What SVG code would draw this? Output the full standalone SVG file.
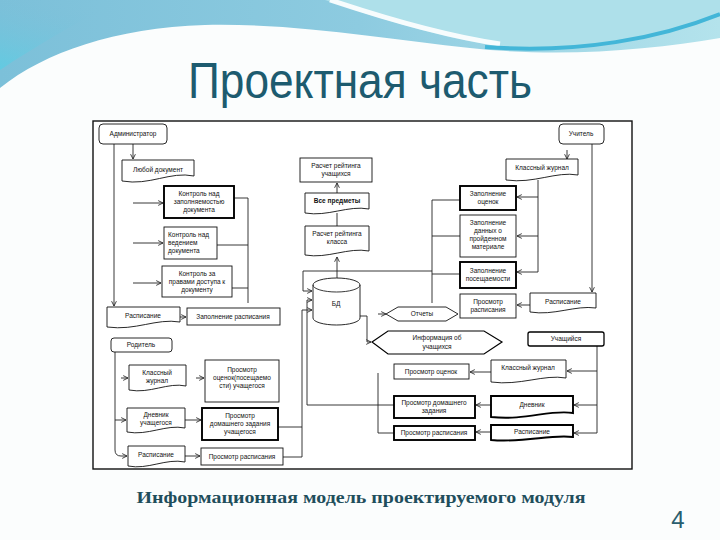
<svg xmlns="http://www.w3.org/2000/svg" width="720" height="540" viewBox="0 0 720 540">
<defs>
<linearGradient id="sky" x1="0" y1="0" x2="1" y2="0">
<stop offset="0" stop-color="#7cc0d9"/>
<stop offset="0.5" stop-color="#8dcbe0"/>
<stop offset="1" stop-color="#b4e3ec"/>
</linearGradient>
<linearGradient id="tip" x1="0" y1="1" x2="0.4" y2="0">
<stop offset="0" stop-color="#4fd2e8"/>
<stop offset="1" stop-color="#7cc0d9" stop-opacity="0"/>
</linearGradient>
<marker id="ah" viewBox="0 0 10 10" refX="9" refY="5" markerWidth="6" markerHeight="6" orient="auto" markerUnits="userSpaceOnUse">
<path d="M1,1 L9,5 L1,9" fill="none" stroke="#222" stroke-width="1.4"/>
</marker>
<style>
.n{fill:#fff;stroke:#111;stroke-width:0.9}
.k{fill:#fff;stroke:#000;stroke-width:1.9}
.c{fill:none;stroke:#222;stroke-width:0.9}
.a{marker-end:url(#ah)}
text.l{font-family:"Liberation Sans",Arial,sans-serif;font-size:6.5px;fill:#111;text-anchor:middle}
</style>
</defs>
<rect width="720" height="540" fill="#fbfdfd"/>
<!-- top wave -->
<rect x="0" y="0" width="720" height="110" fill="url(#sky)"/>
<path d="M0,0 H120 C80,20 30,50 0,70 Z" fill="url(#tip)" opacity="0.6"/>
<path d="M325,0 C390,22 450,40 505,47 C600,52 670,32 720,12 V0 Z" fill="#aee0ea"/>
<path d="M330,0 C390,20 445,36 500,44" fill="none" stroke="#ffffff" stroke-width="5" opacity="0.9"/>
<path d="M0,88 C45,52 115,28 205,25 C300,23 390,40 470,48 C560,58 650,50 720,38 V540 H0 Z" fill="#fbfdfd"/>
<path d="M485,47 C580,54 660,38 720,14" fill="none" stroke="#43b6d8" stroke-width="4"/>
<text x="360" y="98" font-family="Liberation Sans, Arial, sans-serif" font-size="50" fill="#1d5b6f" text-anchor="middle" textLength="344" lengthAdjust="spacingAndGlyphs">Проектная часть</text>

<!-- frame -->
<rect x="93" y="121" width="539" height="348" fill="#fff" stroke="#111" stroke-width="1.4"/>

<!-- connectors -->
<g id="connectors">
<path class="c a" d="M133,144 V159"/>
<path class="c a" d="M114,144 V306"/>
<path class="c a" d="M133,203 H163"/>
<path class="c a" d="M133,243 H163"/>
<path class="c a" d="M133,283 H161"/>
<path class="c" d="M234,198 H248 M217,245 H248 M232,288 H248 M248,198 V303"/>
<path class="c a" d="M180,317 H186"/>
<path class="c a" d="M115,352 V450 Q115,456 121,456 H127"/>
<path class="c a" d="M115,420 H126"/>
<path class="c a" d="M121,378 H128"/>
<path class="c a" d="M196,378 H204"/>
<path class="c a" d="M185,420 H201"/>
<path class="c a" d="M185,456 H200"/>
<path class="c" d="M278,427 H302 M283,457 H302"/>
<path class="c a" d="M302,457 V310 H312"/>
<path class="c a" d="M337,278 V257"/>
<path class="c" d="M337,226 V213"/>
<path class="c a" d="M337,193 V183"/>
<path class="c" d="M460,200 H432 M460,236 H432 M460,274 H432 M432,200 V303"/>
<path class="c a" d="M432,271 H303 V291 H312"/>
<path class="c a" d="M394,405 H307 V300 H312"/>
<path class="c" d="M378,373 V433 H394"/>
<path class="c a" d="M360,316 H367 V342 H371"/>
<path class="c a" d="M378,314 H386"/>
<path class="c a" d="M592,144 V292"/>
<path class="c a" d="M567,150 V159"/>
<path class="c" d="M538,180 V272"/>
<path class="c a" d="M538,197 H517"/>
<path class="c a" d="M538,236 H517"/>
<path class="c a" d="M538,272 H517"/>
<path class="c a" d="M530,305 H517"/>
<path class="c a" d="M597,346 V433 H574"/>
<path class="c a" d="M597,405 H574"/>
<path class="c a" d="M597,371 H567"/>
<path class="c a" d="M491,372 H470"/>
<path class="c a" d="M491,405 H476"/>
<path class="c a" d="M491,432 H476"/>
</g>

<!-- left: administrator -->
<g id="admin"><rect class="n" x="99" y="124" width="68" height="20" rx="4"/><text class="l" x="133" y="136">Администратор</text></g>
<g id="anydoc"><path class="n" d="M122,160 H194 V176 C170,171 150,186 122,181 Z"/><text class="l" x="158" y="172">Любой документ</text></g>
<g id="ctrl1"><rect class="k" x="164" y="186" width="70" height="32"/><text class="l" x="199" y="196">Контроль над</text><text class="l" x="199" y="204">заполняемостью</text><text class="l" x="199" y="212">документа</text></g>
<g id="ctrl2"><rect class="n" x="164" y="227" width="53" height="32"/><text class="l" x="168" y="237" text-anchor="start" style="text-anchor:start">Контроль над</text><text class="l" x="168" y="245" style="text-anchor:start">ведением</text><text class="l" x="168" y="253" style="text-anchor:start">документа</text></g>
<g id="ctrl3"><rect class="n" x="162" y="266" width="70" height="31"/><text class="l" x="197" y="276">Контроль за</text><text class="l" x="197" y="284">правами доступа к</text><text class="l" x="197" y="292">документу</text></g>
<g id="sched1"><path class="n" d="M107,307 H180 V322 C156,318 136,331 107,327 Z"/><text class="l" x="143" y="318">Расписание</text></g>
<g id="fillsched"><rect class="n" x="187" y="308" width="93" height="17"/><text class="l" x="233" y="319">Заполнение расписания</text></g>

<!-- parent -->
<g id="parent"><rect class="n" x="111" y="338" width="61" height="14" rx="3"/><text class="l" x="141" y="347">Родитель</text></g>
<g id="pjournal"><path class="n" d="M129,365 H186 V386 C168,382 150,394 129,390 Z"/><text class="l" x="157" y="375">Классный</text><text class="l" x="157" y="383">журнал</text></g>
<g id="pgrades"><rect class="n" x="205" y="360" width="74" height="42"/><text class="l" x="242" y="372">Просмотр</text><text class="l" x="242" y="380">оценок(посещаемо</text><text class="l" x="242" y="388">сти) учащегося</text></g>
<g id="pdiary"><path class="n" d="M127,408 H185 V428 C166,424 148,436 127,432 Z"/><text class="l" x="156" y="417">Дневник</text><text class="l" x="156" y="425">учащегося</text></g>
<g id="phome"><rect class="k" x="202" y="408" width="76" height="32"/><text class="l" x="240" y="418">Просмотр</text><text class="l" x="240" y="426">домашнего задания</text><text class="l" x="240" y="434">учащегося</text></g>
<g id="psched"><path class="n" d="M128,446 H185 V462 C166,458 148,470 128,466 Z"/><text class="l" x="156" y="457">Расписание</text></g>
<g id="pviewsched"><rect class="n" x="201" y="448" width="82" height="17"/><text class="l" x="242" y="459">Просмотр расписания</text></g>

<!-- middle -->
<g id="ratestud"><rect class="n" x="300" y="158" width="72" height="24"/><text class="l" x="336" y="168">Расчет рейтинга</text><text class="l" x="336" y="176">учащихся</text></g>
<g id="allsubj"><path class="n" d="M305,193 H369 V209 C348,205 328,217 305,213 Z"/><text class="l" x="337" y="203" font-weight="bold">Все предметы</text></g>
<g id="rateclass"><path class="n" d="M305,226 H369 V251 C348,247 328,259 305,255 Z"/><text class="l" x="337" y="236">Расчет рейтинга</text><text class="l" x="337" y="244">класса</text></g>
<g id="db"><path class="n" d="M313,285 A23.5,7 0 0 1 360,285 V318 A23.5,7 0 0 1 313,318 Z"/><path class="c" d="M313,285 A23.5,7 0 0 0 360,285"/><text class="l" x="336" y="306">БД</text></g>
<g id="reports"><polygon class="n" points="386,314 398,307 446,307 458,314 446,321 398,321"/><text class="l" x="422" y="316">Отчеты</text></g>
<g id="info"><polygon class="k" points="372,342 388,331 484,331 502,342 484,354 388,354" style="stroke-width:1.2"/><text class="l" x="437" y="340">Информация об</text><text class="l" x="437" y="349">учащихся</text></g>

<!-- teacher -->
<g id="teacher"><rect class="n" x="559" y="124" width="45" height="20" rx="4"/><text class="l" x="581" y="136">Учитель</text></g>
<g id="tjournal"><path class="n" d="M506,159 H578 V175 C556,171 534,184 506,180 Z"/><text class="l" x="542" y="170">Классный журнал</text></g>
<g id="tgrades"><rect class="k" x="460" y="186" width="56" height="24"/><text class="l" x="488" y="196">Заполнение</text><text class="l" x="488" y="204">оценок</text></g>
<g id="tmaterial"><rect class="n" x="460" y="215" width="56" height="42"/><text class="l" x="488" y="225">Заполнение</text><text class="l" x="488" y="233">данных о</text><text class="l" x="488" y="241">пройденном</text><text class="l" x="488" y="249">материале</text></g>
<g id="tattend"><rect class="k" x="460" y="262" width="56" height="26"/><text class="l" x="488" y="273">Заполнение</text><text class="l" x="488" y="281">посещаемости</text></g>
<g id="tviewsched"><rect class="n" x="460" y="294" width="56" height="24"/><text class="l" x="488" y="304">Просмотр</text><text class="l" x="488" y="312">расписания</text></g>
<g id="tsched"><path class="n" d="M530,293 H596 V308 C575,305 554,316 530,312 Z"/><text class="l" x="563" y="304">Расписание</text></g>

<!-- student -->
<g id="student"><rect class="k" x="528" y="332" width="76" height="14" rx="2" style="stroke-width:1.3"/><text class="l" x="566" y="341">Учащийся</text></g>
<g id="sjournal"><path class="n" d="M491,360 H566 V378 C544,374 520,386 491,382 Z"/><text class="l" x="528" y="370">Классный журнал</text></g>
<g id="sgrades"><rect class="n" x="394" y="364" width="75" height="15"/><text class="l" x="431" y="374">Просмотр оценок</text></g>
<g id="sdiary"><path class="k" d="M491,396 H573 V413 C550,409 526,421 491,417 Z"/><text class="l" x="532" y="407">Дневник</text></g>
<g id="shome"><rect class="k" x="394" y="396" width="81" height="22"/><text class="l" x="434" y="405">Просмотр домашнего</text><text class="l" x="434" y="413">задания</text></g>
<g id="ssched"><path class="k" d="M491,425 H573 V437 C550,434 526,443 491,440 Z"/><text class="l" x="532" y="434">Расписание</text></g>
<g id="sviewsched"><rect class="k" x="394" y="426" width="81" height="14"/><text class="l" x="434" y="435">Просмотр расписания</text></g>

<text x="361" y="503" font-family="Liberation Serif, 'Times New Roman', serif" font-size="16" font-weight="bold" fill="#1f4e5c" text-anchor="middle" textLength="449" lengthAdjust="spacingAndGlyphs">Информационная модель проектируемого модуля</text>
<text x="678" y="528" font-family="Liberation Sans, Arial, sans-serif" font-size="24" fill="#2a5e6e" text-anchor="middle">4</text>
</svg>
